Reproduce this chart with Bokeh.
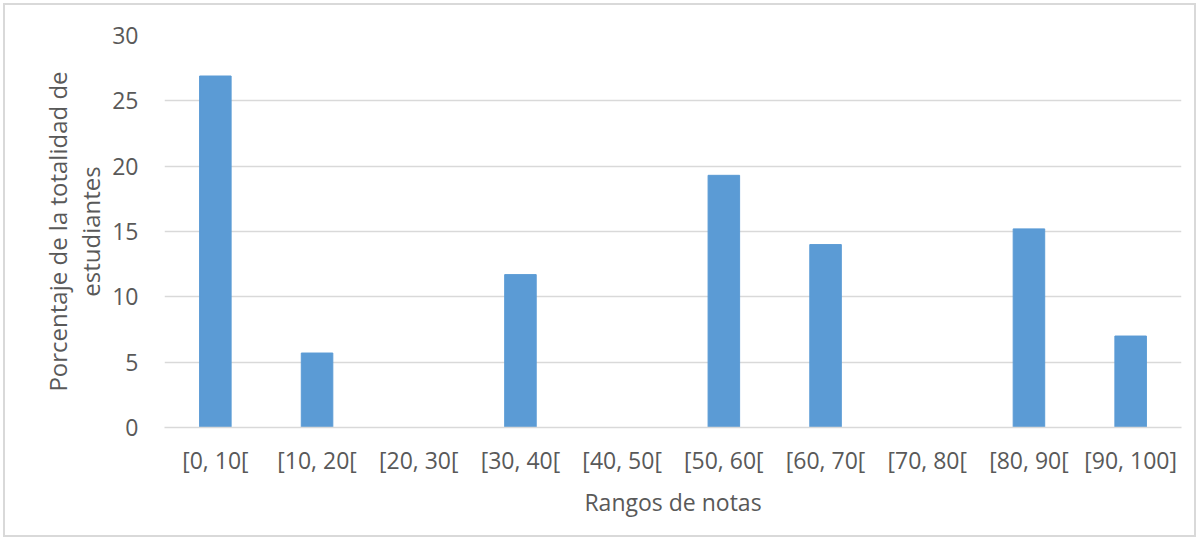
from bokeh.plotting import figure
from bokeh.models import Range1d, FixedTicker
from bokeh.embed import file_html
from bokeh.resources import INLINE

# Distribution of grades by range
rangos = ["[0, 10[", "[10, 20[", "[20, 30[", "[30, 40[", "[40, 50[",
          "[50, 60[", "[60, 70[", "[70, 80[", "[80, 90[", "[90, 100]"]
porcentajes = [26.9, 5.7, 0, 11.7, 0, 19.3, 14.0, 0, 15.2, 7.0]
y_ticks = [0, 5, 10, 15, 20, 25, 30]

FONT = "Open Sans"
TEXT = "#595959"
GRID = "#D9D9D9"

p = figure(x_range=rangos, y_range=Range1d(0, 30),
           width=1193, height=534,
           output_backend="svg", toolbar_location=None,
           min_border_left=159, min_border_right=17,
           min_border_top=30, min_border_bottom=112)
p.styles = {"border": "2px solid #D9D9D9", "margin": "3px"}

p.vbar(x=rangos, top=porcentajes, width=0.31, color="#5B9BD5")

p.outline_line_color = None
p.xgrid.grid_line_color = None
p.ygrid.grid_line_color = GRID
p.ygrid.grid_line_width = 1.5
p.yaxis.ticker = FixedTicker(ticks=y_ticks)

p.yaxis.axis_line_color = None
p.yaxis.major_tick_line_color = None
p.yaxis.minor_tick_line_color = None
p.yaxis.major_label_standoff = 20
p.yaxis.axis_label = "Porcentaje de la totalidad de\nestudiantes"
p.yaxis.axis_label_standoff = 2

p.xaxis.axis_line_color = GRID
p.xaxis.axis_line_width = 1.5
p.xaxis.major_tick_line_color = None
p.xaxis.minor_tick_line_color = None
p.xaxis.major_label_standoff = 10
p.xaxis.axis_label = "Rangos de notas"
p.xaxis.axis_label_standoff = 7

for ax in (p.xaxis, p.yaxis):
    ax.major_label_text_font = FONT
    ax.major_label_text_font_size = "23px"
    ax.major_label_text_color = TEXT
    ax.axis_label_text_font = FONT
    ax.axis_label_text_font_style = "normal"
    ax.axis_label_text_color = TEXT
p.xaxis.axis_label_text_font_size = "23px"
p.yaxis.axis_label_text_font_size = "24px"
p.yaxis.axis_label_text_line_height = 1.0

open("out.html", "w").write(file_html(p, INLINE))
